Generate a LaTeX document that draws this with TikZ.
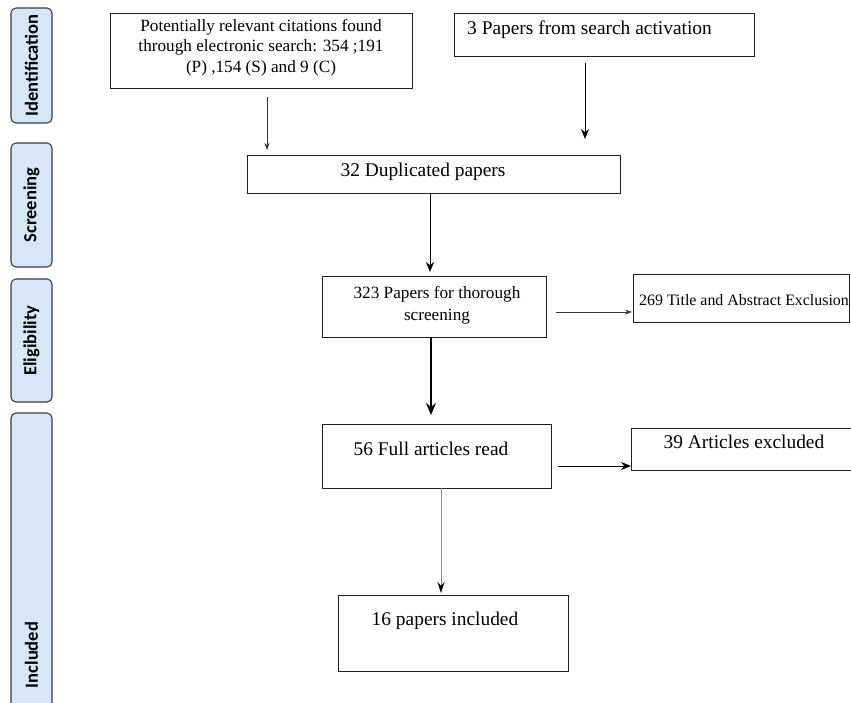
\documentclass[tikz,border=0pt]{standalone}
\usepackage{fontspec}
\setmainfont{Liberation Serif}
\newfontfamily\labfont{Carlito}
\usetikzlibrary{arrows.meta}
\definecolor{labfill}{HTML}{D8E7F7}
\definecolor{labline}{HTML}{3C3C3C}
\definecolor{boxline}{HTML}{202020}
\tikzset{
  box/.style={draw=boxline, line width=1pt, fill=white},
  lab/.style={draw=labline, fill=labfill, line width=1.1pt, rounded corners=5pt},
  labtext/.style={rotate=90, font=\labfont\bfseries\fontsize{18.5}{20}\selectfont, inner sep=0pt},
  txt/.style={inner sep=0pt, font=\fontsize{19.4}{22}\selectfont},
  arrthin/.style={draw=black!80, line width=0.6pt, -{Stealth[length=7pt,width=5pt]}},
  arrmid/.style={draw=black, line width=1pt, -{Stealth[length=10pt,width=8pt]}},
  arrthick/.style={draw=black, line width=1.7pt, -{Stealth[length=12pt,width=10pt]}},
  arrgray/.style={draw=black!45, line width=1pt, -{Stealth[length=11pt,width=7pt,black]}},
}
\begin{document}
\begin{tikzpicture}[x=1pt,y=-1pt]
\useasboundingbox (0,0) rectangle (851,702);
\fill[white] (0,0) rectangle (851,702);
% side labels
\draw[lab] (11,8) rectangle (52,123);
\node[labtext] (lid) at (31.5,65.5) {Identification};
\draw[lab] (11,143) rectangle (52,267);
\node[labtext] (lsc) at (31.5,205) {Screening};
\draw[lab] (11,279) rectangle (52,402);
\node[labtext] (lel) at (31.5,340.5) {Eligibility};
\draw[lab] (11,413) rectangle (52,730);
\node[labtext] (lin) at (31.5,655) {Included};
% boxes
\draw[box] (110,13) rectangle (412,88);
\node[txt, font=\fontsize{17.2}{20.5}\selectfont, align=center, anchor=north] (t1) at (261,19) {Potentially relevant citations found\\through electronic search: 354 ;191\\(P) ,154 (S) and 9 (C)};
\draw[box] (454,13) rectangle (754,56);
\node[txt, anchor=base west] (t2) at (467,34) {3 Papers from search activation};
\draw[box] (247,155) rectangle (620,193);
\node[txt, anchor=base] (t3) at (423,176) {32 Duplicated papers};
\draw[box] (322,276) rectangle (546,337);
\node[txt, font=\fontsize{17.2}{22}\selectfont, align=center, anchor=north] (t4) at (437,286) {323 Papers for thorough\\screening};
\draw[box] (633,274) rectangle (849,322);
\node[txt, font=\fontsize{15.9}{18}\selectfont, anchor=base west] (t5) at (639,305) {269 Title and Abstract Exclusion};
\draw[box] (322,424) rectangle (551,488);
\node[txt, anchor=base] (t6) at (431,455) {56 Full articles read};
\draw[box] (631,428) rectangle (870,470);
\node[txt, anchor=base] (t7) at (744,448) {39 Articles excluded};
\draw[box] (338,595) rectangle (568,671);
\node[txt, anchor=base] (t8) at (445,625) {16 papers included};
% arrow end points
\coordinate (a1s) at (267,97);  \coordinate (a1e) at (267,150);
\coordinate (a2s) at (585,63);  \coordinate (a2e) at (585,139);
\coordinate (a3s) at (430,193); \coordinate (a3e) at (430,272);
\coordinate (a4s) at (556,312); \coordinate (a4e) at (632,312);
\coordinate (a5s) at (431,337); \coordinate (a5e) at (431,415);
\coordinate (a6s) at (558,466); \coordinate (a6e) at (631,466);
\coordinate (a7s) at (441,488); \coordinate (a7e) at (441,593);
\draw[arrthin] (a1s) -- (a1e);
\draw[arrmid] (a2s) -- (a2e);
\draw[arrmid] (a3s) -- (a3e);
\draw[arrthin] (a4s) -- (a4e);
\draw[arrthick] (a5s) -- (a5e);
\draw[arrmid] (a6s) -- (a6e);
\draw[arrgray] (a7s) -- (a7e);
\end{tikzpicture}
\end{document}
